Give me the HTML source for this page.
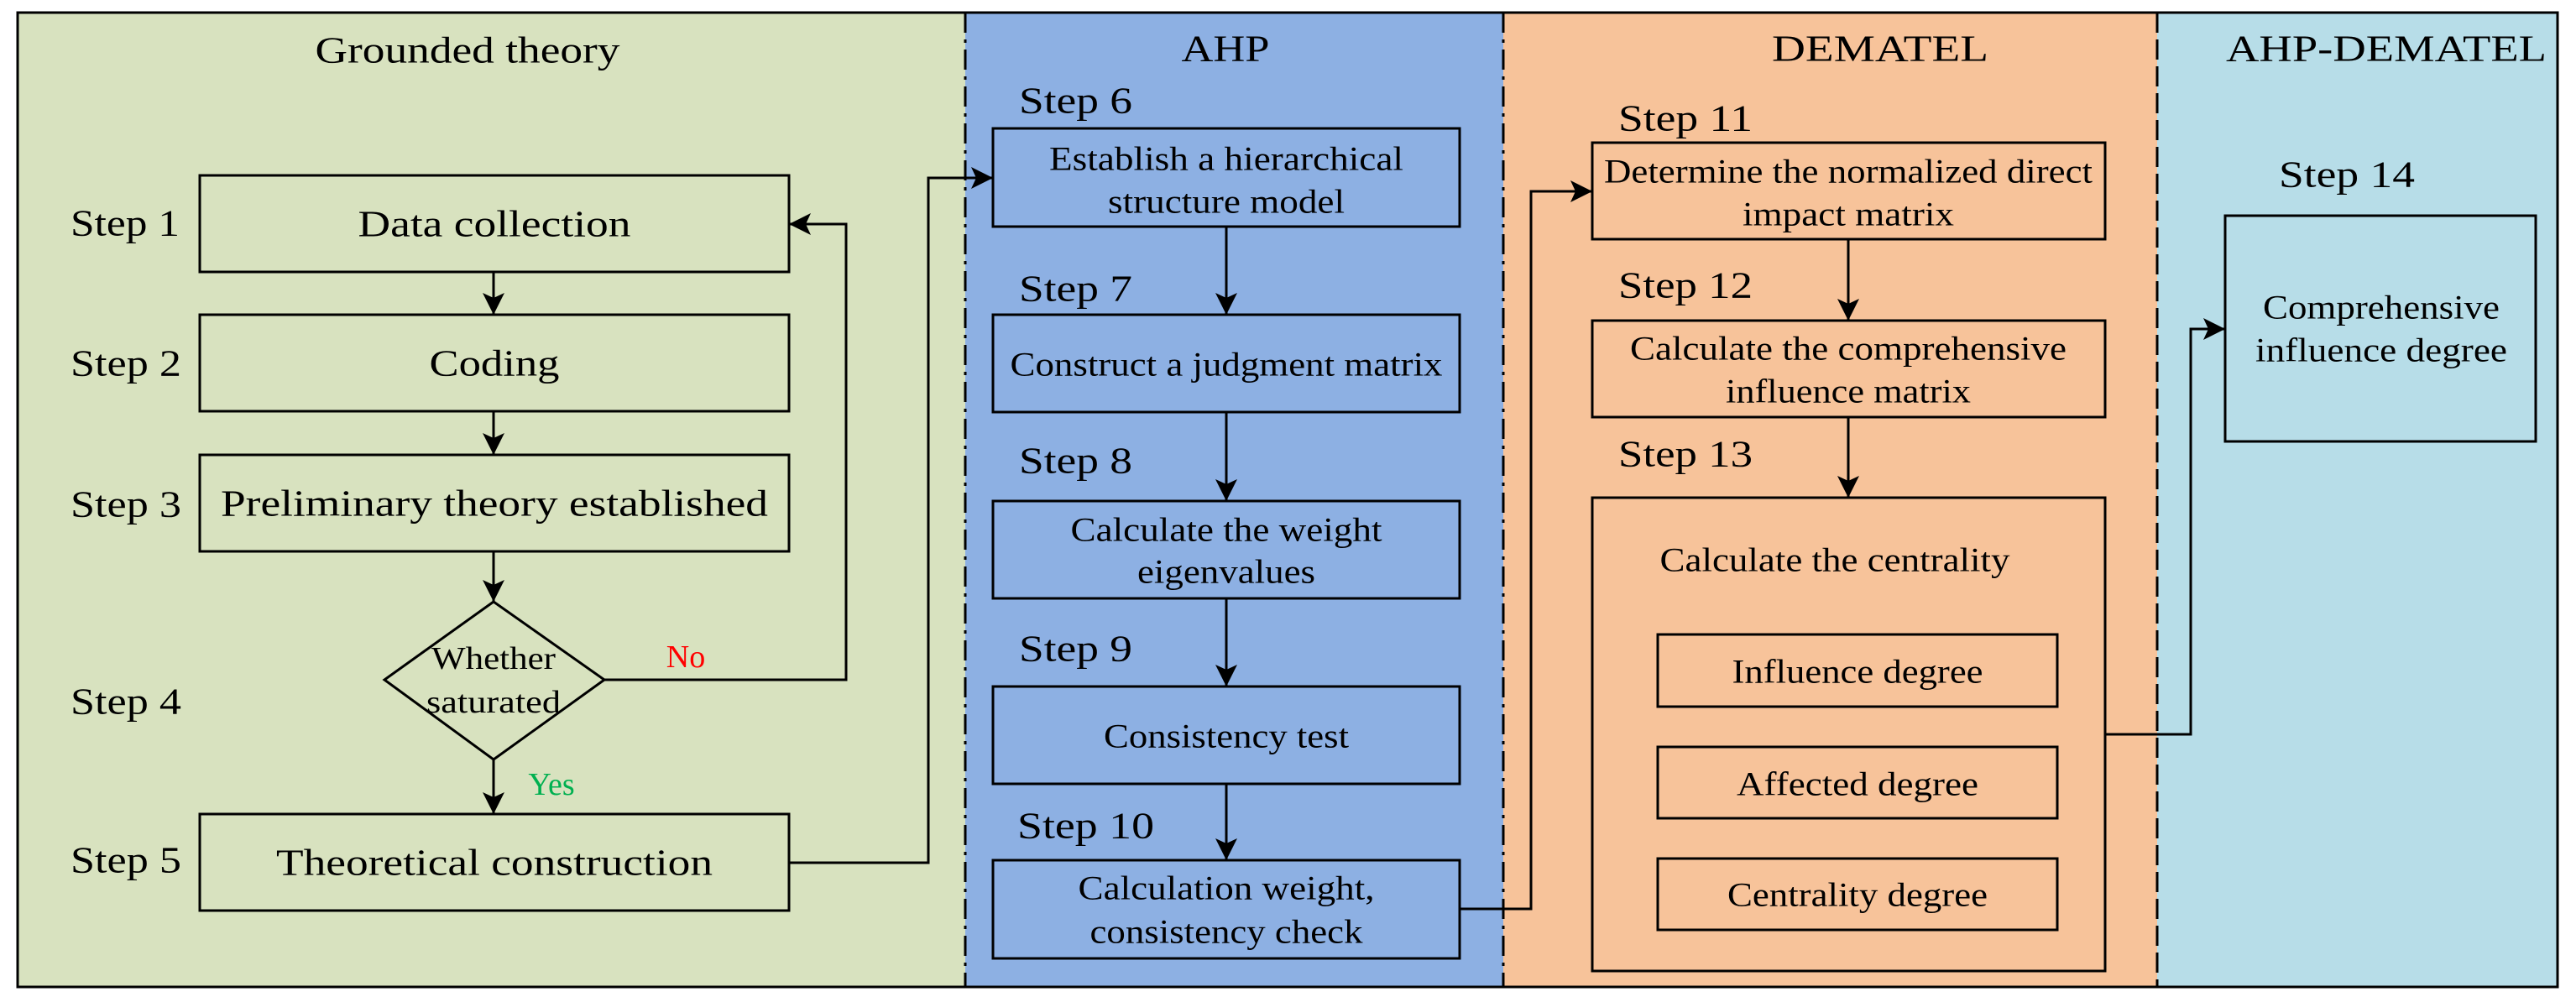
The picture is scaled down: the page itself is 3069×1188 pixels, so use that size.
<!DOCTYPE html>
<html><head><meta charset="utf-8"><style>html,body{margin:0;padding:0;background:#fff}svg{display:block}svg text{font-family:"Liberation Serif","Times New Roman",serif}</style></head><body>
<svg width="3069" height="1188" viewBox="0 0 3069 1188" xmlns="http://www.w3.org/2000/svg" fill="#000">
<defs>
<marker id="b" markerWidth="26" markerHeight="26" refX="26" refY="13" orient="auto" markerUnits="userSpaceOnUse"><path d="M0,0 L26,13 L0,26 L6,13 z"/></marker></defs>
<rect x="0" y="0" width="3069" height="1188" fill="#fff"/>
<rect x="21" y="15" width="1129" height="1161" fill="#d8e2bf"/>
<rect x="1150" y="15" width="641" height="1161" fill="#8db0e3"/>
<rect x="1791" y="15" width="779" height="1161" fill="#f7c39a"/>
<rect x="2570" y="15" width="477" height="1161" fill="#b7dde8"/>
<g stroke="#000" stroke-width="3" fill="none">
<rect x="21" y="15" width="3026" height="1161"/>
<line x1="1150" y1="15" x2="1150" y2="1176" stroke-dasharray="24,8,4,8"/>
<line x1="1791" y1="15" x2="1791" y2="1176" stroke-dasharray="24,8,4,8"/>
<line x1="2570" y1="15" x2="2570" y2="1176" stroke-dasharray="24,8"/>
<rect x="238" y="209" width="702" height="115"/>
<rect x="238" y="375" width="702" height="115"/>
<rect x="238" y="542" width="702" height="115"/>
<polygon points="588,717 720,810 588,905 458,810"/>
<rect x="238" y="970" width="702" height="115"/>
<rect x="1183" y="153" width="556" height="117"/>
<rect x="1183" y="375" width="556" height="116"/>
<rect x="1183" y="597" width="556" height="116"/>
<rect x="1183" y="818" width="556" height="116"/>
<rect x="1183" y="1025" width="556" height="117"/>
<rect x="1897" y="170" width="611" height="115"/>
<rect x="1897" y="382" width="611" height="115"/>
<rect x="1897" y="593" width="611" height="564"/>
<rect x="1975" y="756" width="476" height="86"/>
<rect x="1975" y="890" width="476" height="85"/>
<rect x="1975" y="1023" width="476" height="85"/>
<rect x="2651" y="257" width="370" height="269"/>
</g>
<g stroke="#000" stroke-width="3" fill="none" marker-end="url(#b)">
<line x1="588" y1="324" x2="588" y2="375"/>
<line x1="588" y1="490" x2="588" y2="542"/>
<line x1="588" y1="657" x2="588" y2="717"/>
<line x1="588" y1="905" x2="588" y2="970"/>
<polyline points="720,810 1008,810 1008,267 940,267"/>
<polyline points="940,1028 1106,1028 1106,212 1183,212"/>
<line x1="1461" y1="270" x2="1461" y2="375"/>
<line x1="1461" y1="491" x2="1461" y2="597"/>
<line x1="1461" y1="713" x2="1461" y2="818"/>
<line x1="1461" y1="934" x2="1461" y2="1025"/>
<polyline points="1739,1083 1824,1083 1824,228 1897,228"/>
<line x1="2202" y1="285" x2="2202" y2="382"/>
<line x1="2202" y1="497" x2="2202" y2="593"/>
<polyline points="2508,875 2610,875 2610,392 2651,392"/>
</g>
<g font-size="44" dominant-baseline="central" text-anchor="middle">
<text x="557" y="60" textLength="363" lengthAdjust="spacingAndGlyphs">Grounded theory</text>
<text x="589" y="267" textLength="325" lengthAdjust="spacingAndGlyphs">Data collection</text>
<text x="589" y="433" textLength="155" lengthAdjust="spacingAndGlyphs">Coding</text>
<text x="589" y="600" textLength="652" lengthAdjust="spacingAndGlyphs">Preliminary theory established</text>
<text x="589" y="1028" textLength="520" lengthAdjust="spacingAndGlyphs">Theoretical construction</text>
<text x="1460" y="58" textLength="105" lengthAdjust="spacingAndGlyphs">AHP</text>
<text x="2240" y="58" textLength="258" lengthAdjust="spacingAndGlyphs">DEMATEL</text>
<text x="2843" y="58" textLength="382" lengthAdjust="spacingAndGlyphs">AHP-DEMATEL</text>
</g>
<g font-size="44" dominant-baseline="central">
<text x="84" y="266" textLength="130" lengthAdjust="spacingAndGlyphs">Step 1</text>
<text x="84" y="433" textLength="132" lengthAdjust="spacingAndGlyphs">Step 2</text>
<text x="84" y="601" textLength="132" lengthAdjust="spacingAndGlyphs">Step 3</text>
<text x="84" y="836" textLength="132" lengthAdjust="spacingAndGlyphs">Step 4</text>
<text x="84" y="1025" textLength="132" lengthAdjust="spacingAndGlyphs">Step 5</text>
<text x="1214" y="120" textLength="135" lengthAdjust="spacingAndGlyphs">Step 6</text>
<text x="1214" y="344" textLength="135" lengthAdjust="spacingAndGlyphs">Step 7</text>
<text x="1214" y="549" textLength="135" lengthAdjust="spacingAndGlyphs">Step 8</text>
<text x="1214" y="773" textLength="135" lengthAdjust="spacingAndGlyphs">Step 9</text>
<text x="1212" y="984" textLength="163" lengthAdjust="spacingAndGlyphs">Step 10</text>
<text x="1928" y="141" textLength="160" lengthAdjust="spacingAndGlyphs">Step 11</text>
<text x="1928" y="340" textLength="160" lengthAdjust="spacingAndGlyphs">Step 12</text>
<text x="1928" y="541" textLength="160" lengthAdjust="spacingAndGlyphs">Step 13</text>
<text x="2715" y="208" textLength="162" lengthAdjust="spacingAndGlyphs">Step 14</text>
</g>
<g font-size="38" dominant-baseline="central" text-anchor="middle">
<text x="588" y="785" textLength="148" lengthAdjust="spacingAndGlyphs">Whether</text>
<text x="588" y="837" textLength="160" lengthAdjust="spacingAndGlyphs">saturated</text>
<text x="817" y="783" fill="#ff0000">No</text>
<text x="657" y="935" fill="#00b050">Yes</text>
</g>
<g font-size="40" dominant-baseline="central" text-anchor="middle">
<text x="1461" y="189" textLength="422" lengthAdjust="spacingAndGlyphs">Establish a hierarchical</text>
<text x="1461" y="240" textLength="282" lengthAdjust="spacingAndGlyphs">structure model</text>
<text x="1461" y="434" textLength="515" lengthAdjust="spacingAndGlyphs">Construct a judgment matrix</text>
<text x="1461" y="631" textLength="371" lengthAdjust="spacingAndGlyphs">Calculate the weight</text>
<text x="1461" y="681" textLength="212" lengthAdjust="spacingAndGlyphs">eigenvalues</text>
<text x="1461" y="877" textLength="292" lengthAdjust="spacingAndGlyphs">Consistency test</text>
<text x="1461" y="1058" textLength="353" lengthAdjust="spacingAndGlyphs">Calculation weight,</text>
<text x="1461" y="1110" textLength="325" lengthAdjust="spacingAndGlyphs">consistency check</text>
<text x="2202" y="204" textLength="582" lengthAdjust="spacingAndGlyphs">Determine the normalized direct</text>
<text x="2202" y="255" textLength="252" lengthAdjust="spacingAndGlyphs">impact matrix</text>
<text x="2202" y="415" textLength="520" lengthAdjust="spacingAndGlyphs">Calculate the comprehensive</text>
<text x="2202" y="466" textLength="292" lengthAdjust="spacingAndGlyphs">influence matrix</text>
<text x="2186" y="667" textLength="417" lengthAdjust="spacingAndGlyphs">Calculate the centrality</text>
<text x="2213" y="800" textLength="299" lengthAdjust="spacingAndGlyphs">Influence degree</text>
<text x="2213" y="934" textLength="288" lengthAdjust="spacingAndGlyphs">Affected degree</text>
<text x="2213" y="1066" textLength="310" lengthAdjust="spacingAndGlyphs">Centrality degree</text>
<text x="2837" y="366" textLength="282" lengthAdjust="spacingAndGlyphs">Comprehensive</text>
<text x="2837" y="417" textLength="300" lengthAdjust="spacingAndGlyphs">influence degree</text>
</g>
</svg>
</body></html>
